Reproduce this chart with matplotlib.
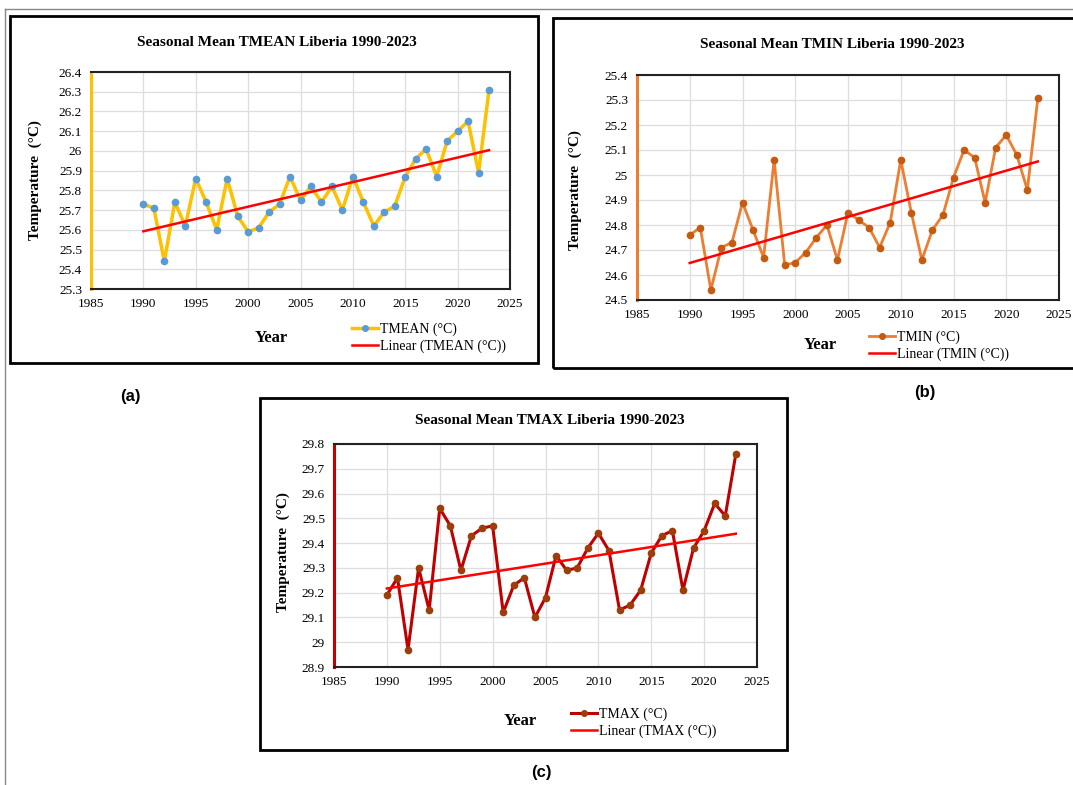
import numpy as np
import matplotlib
matplotlib.use("Agg")
from matplotlib import pyplot as plt
from matplotlib.patches import Rectangle
from matplotlib.lines import Line2D

# Seasonal means for Liberia
years = list(range(1990, 2024))

tmean = [25.73, 25.71, 25.44, 25.74, 25.62, 25.86, 25.74, 25.60, 25.86, 25.67,
         25.59, 25.61, 25.69, 25.73, 25.87, 25.75, 25.82, 25.74, 25.82, 25.70,
         25.87, 25.74, 25.62, 25.69, 25.72, 25.87, 25.96, 26.01, 25.87, 26.05,
         26.10, 26.15, 25.89, 26.31]

tmin = [24.76, 24.79, 24.54, 24.71, 24.73, 24.89, 24.78, 24.67, 25.06, 24.64,
        24.65, 24.69, 24.75, 24.80, 24.66, 24.85, 24.82, 24.79, 24.71, 24.81,
        25.06, 24.85, 24.66, 24.78, 24.84, 24.99, 25.10, 25.07, 24.89, 25.11,
        25.16, 25.08, 24.94, 25.31]

tmax = [29.19, 29.26, 28.97, 29.30, 29.13, 29.54, 29.47, 29.29, 29.43, 29.46,
        29.47, 29.12, 29.23, 29.26, 29.10, 29.18, 29.35, 29.29, 29.30, 29.38,
        29.44, 29.37, 29.13, 29.15, 29.21, 29.36, 29.43, 29.45, 29.21, 29.38,
        29.45, 29.56, 29.51, 29.76]

xticks = [1985, 1990, 1995, 2000, 2005, 2010, 2015, 2020, 2025]

W, H = 1073, 785
fig = plt.figure(figsize=(W / 100, H / 100), dpi=100)

SERIF = ["Liberation Serif", "DejaVu Serif"]


def fx(x):
    return x / W


def fy(y):
    return 1 - y / H


def box(x0, y0, x1, y1, lw=2.0, color="black"):
    fig.patches.append(Rectangle((fx(x0), fy(y1)), fx(x1) - fx(x0), fy(y0) - fy(y1),
                                 transform=fig.transFigure, fill=False,
                                 lw=lw, edgecolor=color, zorder=0))


# outer frame of the composite figure
fig.lines.append(Line2D([fx(5), fx(5)], [fy(9), fy(785)], transform=fig.transFigure,
                        color="#888888", lw=1))
fig.lines.append(Line2D([fx(5), fx(1073)], [fy(9), fy(9)], transform=fig.transFigure,
                        color="#888888", lw=1))

panels = [
    # name, values, line colour, marker colour, ylim, axes px, box px, title pos, ylabel pos,
    # legend pos, year pos, letter pos
    dict(name="TMEAN", vals=tmean, lc="#FFC000", mc="#5B9BD5", ylim=(25.3, 26.4),
         ax=(91, 72, 510, 289), box=(10, 16, 538, 363), title=(277, 42),
         ylab=(35, 180), leg=(352, 323), year=(271, 338), letter=("(a)", 130, 396),
         lw=2.5),
    dict(name="TMIN", vals=tmin, lc="#ED7D31", mc="#C55A11", ylim=(24.5, 25.4),
         ax=(637, 75, 1059, 300), box=(553, 18, 1080, 368), title=(832, 45),
         ylab=(575, 190), leg=(869, 331), year=(820, 345), letter=("(b)", 925, 393),
         lw=2.0),
    dict(name="TMAX", vals=tmax, lc="#C00000", mc="#9C3D0A", ylim=(28.9, 29.8),
         ax=(334, 444, 757, 667), box=(260, 398, 787, 750), title=(550, 421),
         ylab=(283, 552), leg=(571, 708), year=(520, 721), letter=("(c)", 541, 772),
         lw=2.2),
]

for p in panels:
    x0, y0, x1, y1 = p["ax"]
    ax = fig.add_axes([fx(x0), fy(y1), fx(x1) - fx(x0), fy(y0) - fy(y1)])
    vals = np.array(p["vals"])
    yrs = np.array(years)

    ax.plot(yrs, vals, color=p["lc"], lw=p["lw"], marker="o", ms=4.5,
            mfc=p["mc"], mec=p["mc"], label=p["name"] + " (°C)", zorder=3)
    k, b = np.polyfit(yrs, vals, 1)
    ax.plot([yrs[0], yrs[-1]], [k * yrs[0] + b, k * yrs[-1] + b], color="#FF0000",
            lw=1.8, label="Linear (" + p["name"] + " (°C))", zorder=4)

    lo, hi = p["ylim"]
    ax.set_xlim(1985, 2025)
    ax.set_ylim(lo, hi)
    ax.set_xticks(xticks)
    yt = np.round(np.arange(lo, hi + 0.001, 0.1), 1)
    ax.set_yticks(yt)
    ax.set_yticklabels(["%g" % v for v in yt])
    ax.grid(True, color="#DDDDDD", lw=0.9)
    ax.set_axisbelow(True)
    ax.tick_params(length=0, labelsize=9.5, pad=6.5)
    for lab in ax.get_xticklabels() + ax.get_yticklabels():
        lab.set_family(SERIF)
    for side in ["top", "right", "bottom"]:
        ax.spines[side].set_color("#222222")
        ax.spines[side].set_linewidth(1.5)
    ax.spines["left"].set_color(p["lc"])
    ax.spines["left"].set_linewidth(2.2)

    box(*p["box"])
    tx, ty = p["title"]
    fig.text(fx(tx), fy(ty), "Seasonal Mean " + p["name"] + " Liberia 1990-2023",
             ha="center", va="center", fontsize=11, fontweight="bold", family=SERIF)
    lx, ly = p["ylab"]
    fig.text(fx(lx), fy(ly), "Temperature  (°C)", rotation=90, ha="center", va="center",
             fontsize=11, fontweight="bold", family=SERIF)
    yx, yy = p["year"]
    fig.text(fx(yx), fy(yy), "Year", ha="center", va="center", fontsize=12,
             fontweight="bold", family=SERIF)
    gx, gy = p["leg"]
    ax.legend(loc="upper left", bbox_to_anchor=(fx(gx), fy(gy)),
              bbox_transform=fig.transFigure, frameon=False,
              prop={"family": SERIF, "size": 10}, handlelength=1.9,
              handletextpad=0.15, labelspacing=0.25, borderpad=0, borderaxespad=0,
              markerscale=0.9)
    lt, ltx, lty = p["letter"]
    fig.text(fx(ltx), fy(lty), lt, ha="center", va="center", fontsize=12,
             fontweight="bold", family=["Liberation Sans", "DejaVu Sans"])

fig.savefig("out.png", dpi=100)
